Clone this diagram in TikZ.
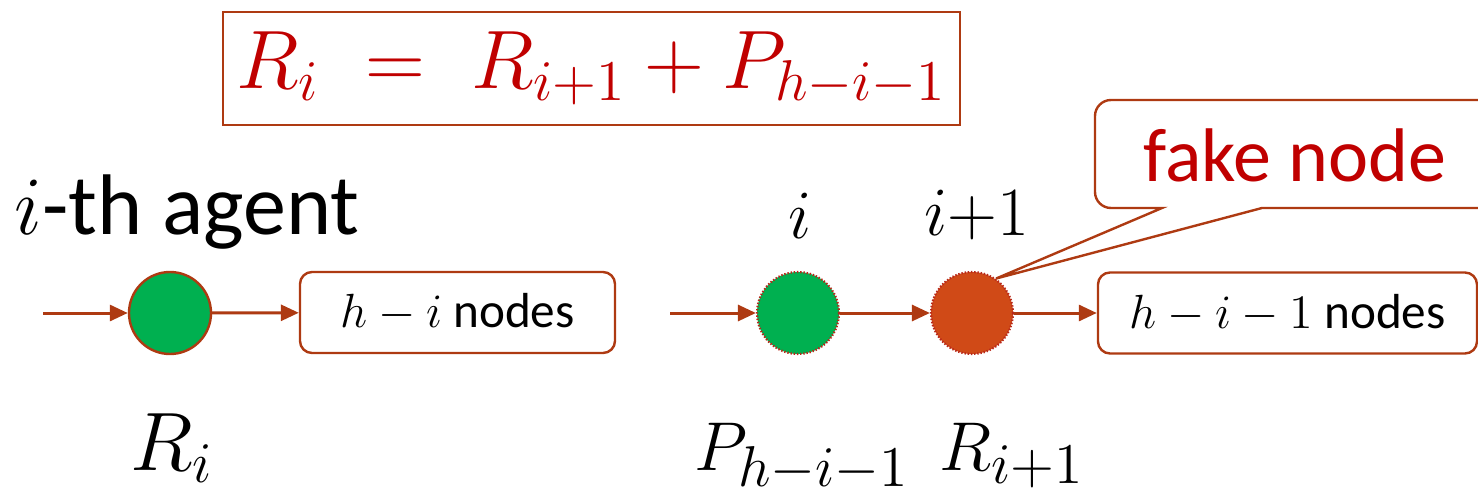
\documentclass[tikz,border=0pt]{standalone}
\usepackage{amsmath}
\usepackage{fontspec}
\setmainfont{Carlito}
\usepackage{xcolor}
\usetikzlibrary{arrows.meta,positioning}
\definecolor{edgebrown}{HTML}{AE3A12}
\definecolor{textred}{HTML}{C00000}
\definecolor{agentgreen}{HTML}{00B050}
\definecolor{fakeorange}{HTML}{D04A17}
\definecolor{dotred}{HTML}{B8281A}

\tikzset{
  flow/.style={edgebrown,line width=0.75pt,-{Triangle[length=4.5pt,width=4pt]}},
  agentdot/.style={circle,draw=edgebrown,line width=0.6pt,fill=agentgreen,minimum size=20.5pt,inner sep=0pt},
  dottedagent/.style={circle,draw=dotred,line width=0.55pt,dash pattern=on 0.35pt off 0.45pt,minimum size=20.5pt,inner sep=0pt},
  restbox/.style={draw=edgebrown,line width=0.6pt,rounded corners=3pt,minimum height=20.25pt,inner sep=0pt,font=\fontsize{12.3}{14}\selectfont},
  biglabel/.style={inner sep=0pt,anchor=base,font=\fontsize{19}{23}\selectfont},
}

\begin{document}
\begin{tikzpicture}[x=0.25pt,y=-0.25pt]
  \useasboundingbox (0,0) rectangle (1478,493);
  \clip (0,0) rectangle (1478,493);

  % recurrence
  \node[draw=edgebrown,line width=0.6pt,text=textred,minimum width=184.25pt,minimum height=28.25pt,
        font=\fontsize{20}{24}\selectfont] (eq) at (591.5,68.5)
        {$R_i \;=\; R_{i+1} + P_{h-i-1}$};

  % left chain
  \node[inner sep=0pt,anchor=base west,font=\fontsize{21.5}{25}\selectfont] (agentlbl) at (14,234) {$i$-th agent};
  \coordinate (in1) at (43,313);
  \node[agentdot] (agent) at (170,313) {};
  \node[restbox,minimum width=78.75pt] (rest1) at (457.5,312.5) {$h-i$ nodes};
  \draw[flow] (in1) -- (agent);
  \draw[flow] (agent) -- (rest1);
  \node[biglabel,font=\fontsize{21.5}{25}\selectfont] (ri) at (172,470) {$R_i$};

  % right chain
  \coordinate (in2) at (670,313);
  \node[dottedagent,fill=agentgreen] (cur) at (798,313) {};
  \node[dottedagent,fill=fakeorange] (nxt) at (972,313) {};
  \node[restbox,minimum width=94.75pt] (rest2) at (1287.5,313) {$h-i-1$ nodes};
  \draw[flow] (in2) -- (cur);
  \draw[flow] (cur) -- (nxt);
  \draw[flow] (nxt) -- (rest2);
  \node[inner sep=0pt,anchor=base,font=\fontsize{17}{20}\selectfont] (curlbl) at (800,238) {$i$};
  \node[inner sep=0pt,anchor=base,font=\fontsize{17}{20}\selectfont] (nxtlbl) at (977,235) {$i{+}1$};
  \node[biglabel] (pcur) at (802,470) {$P_{h-i-1}$};
  \node[biglabel] (rnxt) at (1012,470) {$R_{i+1}$};

  % callout
  \node[inner sep=0pt,anchor=base,text=textred,font=\fontsize{19}{22}\selectfont] (fake) at (1295,181) {fake node};
  \draw[edgebrown,line width=0.6pt] (nxt.55) -- (1162,208) [rounded corners=4pt] -- (1095,208) -- (1095,100)
        -- (1530,100) -- (1530,208) [sharp corners] -- (1262,208) -- cycle;
\end{tikzpicture}
\end{document}
